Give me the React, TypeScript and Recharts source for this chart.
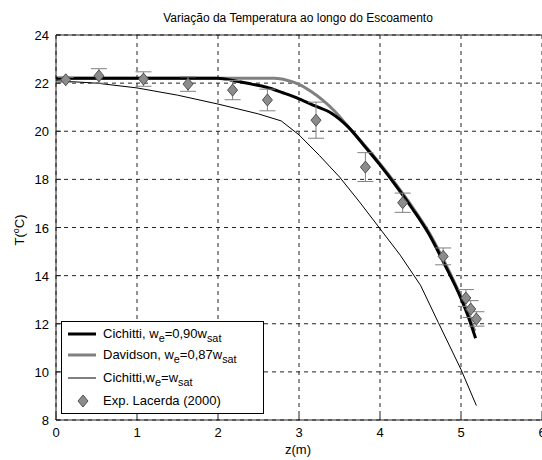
import {
  ComposedChart,
  Line,
  Scatter,
  ErrorBar,
  XAxis,
  YAxis,
  CartesianGrid,
  ReferenceLine,
} from 'recharts'

const FONT = 'Arial, "Liberation Sans", sans-serif'

const zTicks = [0, 1, 2, 3, 4, 5, 6]
const tTicks = [8, 10, 12, 14, 16, 18, 20, 22, 24]

// Cichitti, we = 0,90 wsat
const cich90Z = [0, 2.0, 2.2, 2.4, 2.6, 2.8, 3.0, 3.2, 3.4, 3.6, 3.8, 4.0, 4.2, 4.4, 4.6, 4.8, 5.0, 5.1, 5.18]
const cich90T = [22.2, 22.2, 22.1, 21.97, 21.83, 21.6, 21.35, 21.05, 20.75, 20.2, 19.42, 18.6, 17.72, 16.78, 15.75, 14.45, 13.05, 12.2, 11.4]

// Davidson, we = 0,87 wsat
const davZ = [0, 2.7, 2.85, 3.0, 3.15, 3.3, 3.45, 3.6, 3.8, 4.0, 4.2, 4.4, 4.6, 4.8, 5.0, 5.1, 5.17]
const davT = [22.2, 22.2, 22.12, 21.95, 21.65, 21.27, 20.8, 20.22, 19.45, 18.65, 17.78, 16.85, 15.82, 14.55, 13.12, 12.3, 11.7]

// Cichitti, we = wsat
const cichSatZ = [0, 0.5, 1.0, 1.5, 2.0, 2.5, 2.78, 3.0, 3.25, 3.5, 3.75, 4.0, 4.25, 4.5, 4.72, 5.0, 5.19]
const cichSatT = [22.1, 22.0, 21.8, 21.5, 21.13, 20.72, 20.43, 19.85, 19.0, 18.1, 17.05, 15.95, 14.85, 13.6, 12.05, 10.1, 8.6]

// Exp. Lacerda (2000)
const expZ = [0.12, 0.53, 1.08, 1.63, 2.18, 2.61, 3.21, 3.82, 4.28, 4.78, 5.06, 5.12, 5.19]
const expT = [22.14, 22.3, 22.17, 21.96, 21.71, 21.3, 20.46, 18.51, 17.03, 14.8, 13.07, 12.61, 12.2]
const expErr = [0.1, 0.3, 0.3, 0.3, 0.4, 0.45, 0.75, 0.6, 0.4, 0.35, 0.35, 0.35, 0.3]

const toPoints = (zs: number[], ts: number[]) => zs.map((z, i) => ({ z, T: ts[i] }))

const cich90Data = toPoints(cich90Z, cich90T)
const davData = toPoints(davZ, davT)
const cichSatData = toPoints(cichSatZ, cichSatT)
const expData = expZ.map((z, i) => ({ z, T: expT[i], err: expErr[i] }))

const GRAY = '#808080'

function Diamond({ cx, cy }: { cx?: number; cy?: number }) {
  if (cx == null || cy == null) return null
  return (
    <polygon
      points={`${cx},${cy - 6} ${cx + 5},${cy} ${cx},${cy + 6} ${cx - 5},${cy}`}
      fill="#8c8c8c"
      stroke="#505050"
      strokeWidth={1}
    />
  )
}

function XTick({ x, y, payload }: any) {
  return (
    <g>
      <line x1={x} x2={x} y1={y} y2={y - 5} stroke="#222" />
      <text x={x} y={y + 17} textAnchor="middle" fontSize={13} fontFamily={FONT} fill="#000">
        {payload.value}
      </text>
    </g>
  )
}

function YTick({ x, y, payload }: any) {
  return (
    <g>
      <line x1={x} x2={x + 5} y1={y} y2={y} stroke="#222" />
      <text x={x - 7} y={y + 5} textAnchor="end" fontSize={13} fontFamily={FONT} fill="#000">
        {payload.value}
      </text>
    </g>
  )
}

function LegendBox() {
  const rows = [
    { kind: 'thick', label: <>Cichitti, w<sub>e</sub>=0,90w<sub>sat</sub></> },
    { kind: 'gray', label: <>Davidson, w<sub>e</sub>=0,87w<sub>sat</sub></> },
    { kind: 'thin', label: <>Cichitti,w<sub>e</sub>=w<sub>sat</sub></> },
    { kind: 'diamond', label: <>Exp. Lacerda (2000)</> },
  ]
  const centers = [12, 33, 56, 79]
  return (
    <div
      style={{
        position: 'absolute',
        left: 61,
        top: 321,
        width: 203,
        height: 93,
        boxSizing: 'border-box',
        border: '1px solid #000',
        background: '#fff',
        fontFamily: FONT,
        fontSize: 13,
        color: '#000',
      }}
    >
      {rows.map((r, i) => (
        <div key={i} style={{ position: 'absolute', left: 0, top: centers[i] - 9, height: 18, width: 200 }}>
          <svg width={40} height={18} style={{ position: 'absolute', left: 0, top: 0 }}>
            {r.kind === 'diamond' ? (
              <Diamond cx={21} cy={9} />
            ) : (
              <line
                x1={6}
                x2={34}
                y1={9}
                y2={9}
                stroke={r.kind === 'gray' ? GRAY : '#000'}
                strokeWidth={r.kind === 'thin' ? 1 : 3}
              />
            )}
          </svg>
          <span style={{ position: 'absolute', left: 41, top: 0, lineHeight: '17px', whiteSpace: 'nowrap' }}>
            {r.label}
          </span>
        </div>
      ))}
    </div>
  )
}

export default function App() {
  return (
    <div
      style={{
        position: 'absolute',
        left: 0,
        top: 0,
        width: 542,
        height: 460,
        overflow: 'hidden',
        background: '#fff',
      }}
    >
      <ComposedChart width={560} height={460} margin={{ top: 35, right: 18, bottom: 0, left: 0 }}>
        <CartesianGrid stroke="#222" strokeDasharray="4 4" />
        <XAxis
          dataKey="z"
          type="number"
          domain={[0, 6]}
          ticks={zTicks}
          allowDataOverflow
          height={40}
          tickSize={0}
          tickMargin={0}
          tick={<XTick />}
          stroke="#222"
        />
        <YAxis
          type="number"
          domain={[8, 24]}
          ticks={tTicks}
          allowDataOverflow
          width={56}
          tickSize={0}
          tickMargin={0}
          tick={<YTick />}
          stroke="#222"
        />
        <ReferenceLine y={24} stroke="#222" strokeWidth={1} />
        <Line
          data={cichSatData}
          dataKey="T"
          type="linear"
          stroke="#000"
          strokeWidth={1}
          dot={false}
          isAnimationActive={false}
        />
        <Line
          data={davData}
          dataKey="T"
          type="monotone"
          stroke={GRAY}
          strokeWidth={3}
          dot={false}
          isAnimationActive={false}
        />
        <Line
          data={cich90Data}
          dataKey="T"
          type="monotone"
          stroke="#000"
          strokeWidth={3}
          dot={false}
          isAnimationActive={false}
        />
        <Scatter data={expData} dataKey="T" shape={<Diamond />} isAnimationActive={false}>
          <ErrorBar dataKey="err" direction="y" width={8} stroke={GRAY} strokeWidth={1} />
        </Scatter>
        <text x={298} y={22} textAnchor="middle" fontSize={12} fontFamily={FONT} fill="#000">
          Variação da Temperatura ao longo do Escoamento
        </text>
        <text x={298} y={454} textAnchor="middle" fontSize={13} fontFamily={FONT} fill="#000">
          z(m)
        </text>
        <text
          transform="translate(24, 230) rotate(-90)"
          textAnchor="middle"
          fontSize={13}
          fontFamily={FONT}
          fill="#000"
        >
          T(<tspan fontSize={9} dy={-5}>o</tspan>
          <tspan dy={5}>C)</tspan>
        </text>
      </ComposedChart>
      <LegendBox />
    </div>
  )
}
